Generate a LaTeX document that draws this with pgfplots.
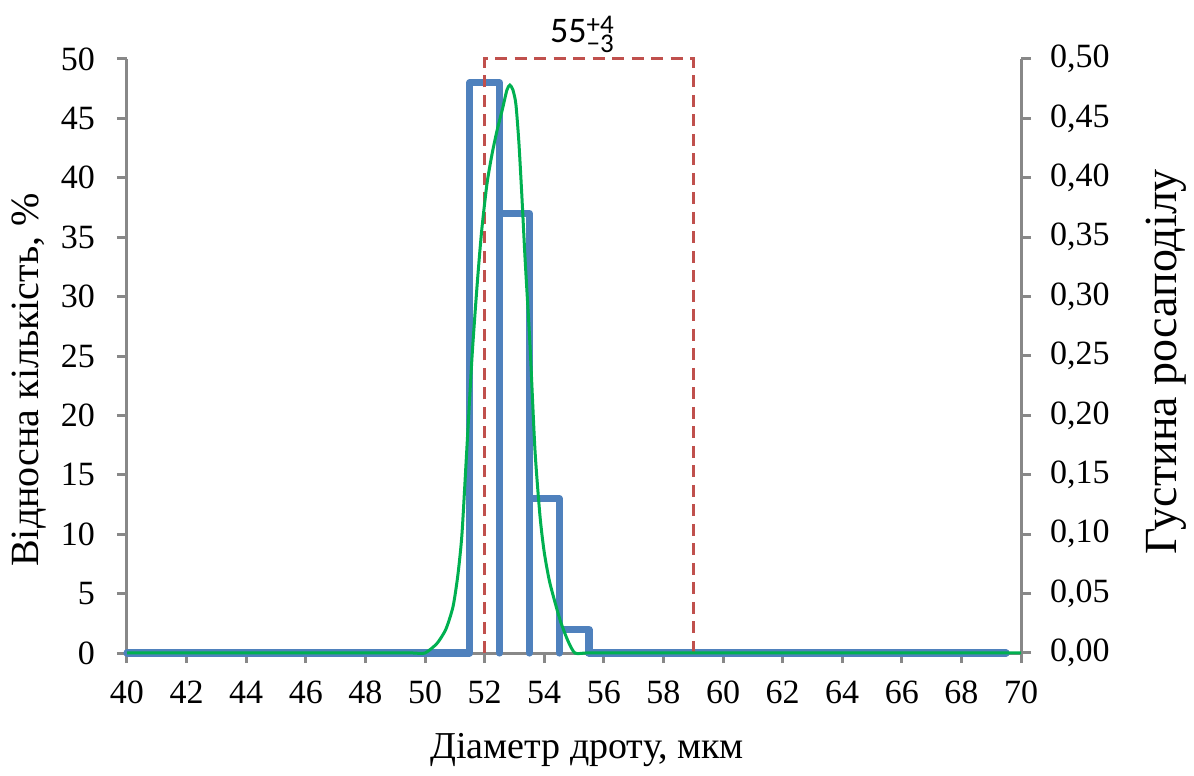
\documentclass[border=0pt]{standalone}
\usepackage{pgfplots}
\pgfplotsset{compat=1.18}
\usepackage{fontspec}
\setmainfont{Liberation Serif}
\newfontfamily\carlito{Carlito}
\definecolor{xlblue}{HTML}{4F81BD}
\definecolor{xlgreen}{HTML}{00B050}
\definecolor{xlred}{HTML}{C0504D}
\definecolor{axgray}{HTML}{888888}
\pgfplotstableread{
x y
40 0
51.5 0
51.5 48
52.5 48
52.5 0
52.5 37
53.5 37
53.5 0
53.5 13
54.5 13
54.5 0
54.5 2
55.5 2
55.5 0
69.5 0
}\histdata
\pgfplotstableread{
x d
40 0
45 0
48 0
49 0
49.6 0
50 0
50.4 0.008
50.7 0.02
50.94 0.039
51.1 0.065
51.24 0.10
51.4 0.17
51.58 0.25
51.75 0.31
51.9 0.355
52.08 0.395
52.25 0.42
52.42 0.44
52.6 0.458
52.75 0.474
52.85 0.478
52.95 0.474
53.05 0.462
53.15 0.43
53.25 0.385
53.36 0.331
53.52 0.261
53.69 0.171
53.86 0.115
54.0 0.085
54.19 0.059
54.53 0.028
54.8 0.01
55.03 0.0
55.4 0
56 0
58 0
62 0
66 0
70 0
}\densdata
\begin{document}
\begin{tikzpicture}
\useasboundingbox (-63.5pt,-61.5pt) rectangle (533.5pt,326.5pt);
\pgfplotsset{
  every axis/.append style={
    at={(0pt,0pt)}, anchor=south west,
    scale only axis, width=447pt, height=297pt,
    xmin=40, xmax=70, clip=false,
    axis line style={-, axgray, line width=1.5pt},
    tick style={axgray, line width=1.5pt},
    major tick length=5pt, tick align=outside,
    ticklabel style={font=\fontsize{17}{20}\selectfont},
    /pgf/number format/assume math mode=true,
    /pgf/number format/use comma,
  }
}
\begin{axis}[
  axis x line*=bottom, axis y line*=left,
  ymin=0, ymax=50,
  xtick={40,42,...,70}, ytick={0,5,...,50},
  xlabel={Діаметр дроту, мкм},
  ylabel={Відносна кількість, \%},
  xticklabel style={yshift=-5.5pt},
  yticklabel style={xshift=-7.5pt},
  xlabel style={at={([xshift=6.5pt,yshift=-52.5pt]axis description cs:0.5,0)}, anchor=base, font=\fontsize{19}{23}\selectfont},
  ylabel style={at={([xshift=-49pt,yshift=-12pt]axis description cs:0,0.5)}, anchor=center, font=\fontsize{20}{24}\selectfont},
]
\addplot[xlblue, line width=3.6pt, line join=round, line cap=round] table[x=x,y=y] {\histdata};
\addplot[xlred, line width=1.5pt, dash pattern=on 6pt off 3.75pt] coordinates {(52,0) (52,50) (59,50) (59,0)};
\node[anchor=base, font={\carlito\fontsize{18}{21}\selectfont}, inner sep=0pt] at (axis cs:55.27,50) [yshift=8pt] {55\rlap{\raisebox{4.6pt}{\fontsize{13.5}{14}\selectfont +4}}\raisebox{-4.8pt}{\fontsize{13.5}{14}\selectfont \char"2212 3}};
\end{axis}
\begin{axis}[
  axis x line=none, axis y line*=right,
  ymin=0, ymax=0.5,
  ytick={0,0.05,...,0.5},
  yticklabel style={xshift=6pt, /pgf/number format/.cd, fixed, fixed zerofill, precision=2, use comma},
  ylabel={Густина росаподілу},
  ylabel style={at={([xshift=72.5pt,yshift=-3pt]axis description cs:1,0.5)}, anchor=center, font=\fontsize{23}{27}\selectfont},
]
\addplot[xlgreen, line width=1.5pt, smooth, tension=0.4] table[x=x,y=d] {\densdata};
\end{axis}
\end{tikzpicture}
\end{document}
